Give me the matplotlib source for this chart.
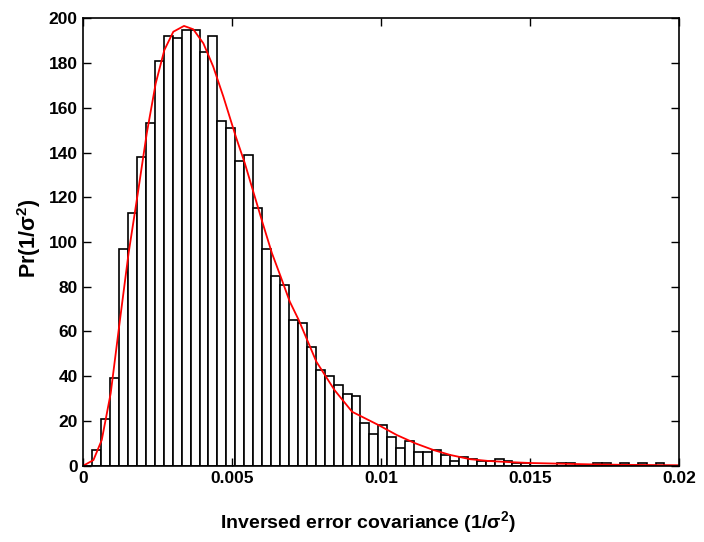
import matplotlib.pyplot as plt
import numpy as np

# histogram counts, one per bin of width 0.0003 starting at 0
bin_width = 0.0003
counts = [0, 7, 21, 39, 97, 113, 138, 153, 181, 192,
          191, 195, 195, 185, 192, 154, 151, 136, 139, 115,
          97, 85, 81, 65, 64, 53, 43, 40, 36, 32,
          31, 19, 14, 18, 13, 8, 11, 6, 6, 7,
          5, 2, 4, 3, 2, 2, 3, 2, 1, 1,
          0, 0, 0, 1, 1, 0, 0, 1, 1, 0,
          1, 0, 1, 0, 1, 0, 0]

# fitted density curve
fit_x = [0.0, 0.00034, 0.00062, 0.00092, 0.00123, 0.00152, 0.00183, 0.00213,
         0.00243, 0.00272, 0.00302, 0.00338, 0.00369, 0.00403, 0.00436, 0.0047,
         0.00512, 0.00542, 0.00572, 0.00602, 0.00633, 0.00661, 0.00693, 0.00723,
         0.00782, 0.00843, 0.00902, 0.0099, 0.01052, 0.01114, 0.01175, 0.01231,
         0.01298, 0.0136, 0.0143, 0.0150, 0.0160, 0.0170, 0.0180, 0.0190, 0.0200]
fit_y = [0.0, 2.5, 11.5, 32.4, 65.1, 95.0, 121.8, 148.6,
         170.9, 185.8, 194.0, 196.6, 195.1, 188.8, 178.4, 165.0,
         147.0, 135.2, 121.8, 108.4, 95.0, 85.0, 73.3, 65.1,
         46.5, 33.8, 24.1, 18.2, 13.7, 10.0, 7.0, 4.8,
         2.9, 2.1, 1.6, 1.2, 0.9, 0.6, 0.4, 0.3, 0.2]

xticks = [0, 0.005, 0.01, 0.015, 0.02]
xtick_labels = ['0', '0.005', '0.01', '0.015', '0.02']
yticks = list(range(0, 201, 20))

plt.rcParams['font.family'] = ['Liberation Sans', 'DejaVu Sans']
plt.rcParams['font.weight'] = 'bold'
plt.rcParams['mathtext.fontset'] = 'custom'
plt.rcParams['mathtext.rm'] = 'Liberation Sans:bold'
plt.rcParams['mathtext.it'] = 'Liberation Sans:bold'

fig = plt.figure(figsize=(7.04, 5.42), dpi=100)
ax = fig.add_axes([0.1183, 0.1408, 0.8467, 0.8254])

left_edges = np.arange(len(counts)) * bin_width
ax.bar(left_edges, counts, width=bin_width, align='edge',
       facecolor='white', edgecolor='black', linewidth=1.2)
ax.plot(fit_x, fit_y, color='red', linewidth=1.3)

ax.set_xlim(0, 0.02)
ax.set_ylim(0, 200)
ax.set_xticks(xticks)
ax.set_xticklabels(xtick_labels)
ax.set_yticks(yticks)
ax.tick_params(direction='in', top=True, right=True, length=6, width=1,
               labelsize=12.5, pad=4)
for lab in ax.get_xticklabels() + ax.get_yticklabels():
    lab.set_fontweight('bold')
for s in ax.spines.values():
    s.set_linewidth(1.2)

ax.set_xlabel('Inversed error covariance (1/σ$^2$)', fontsize=14,
              fontweight='bold')
ax.set_ylabel('Pr(1/σ$^2$)', fontsize=15.5, fontweight='bold')
ax.xaxis.set_label_coords(0.478, -0.097)
ax.yaxis.set_label_coords(-0.068, 0.508)

fig.savefig('out.png', dpi=100)
